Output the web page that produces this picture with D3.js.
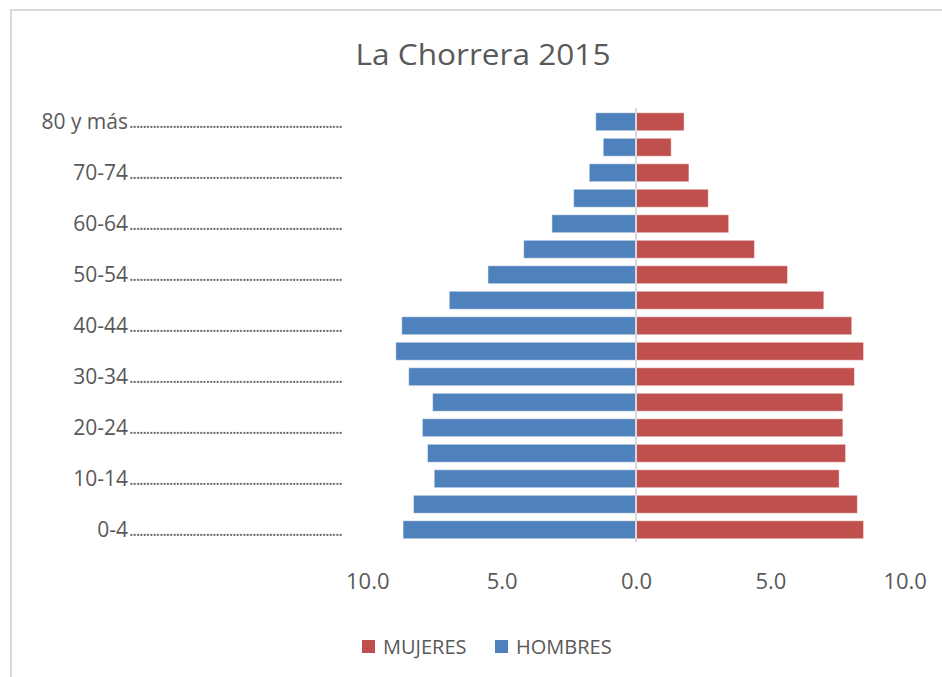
<!DOCTYPE html>
<html>
<head>
<meta charset="utf-8">
<script src="https://cdn.jsdelivr.net/npm/d3@7"></script>
<style>
  html, body { margin: 0; padding: 0; background: #fff; }
  svg { display: block; }
</style>
</head>
<body>
<svg id="chart" width="942" height="677"></svg>
<script>
// Data (bottom to top)
const categories = ["0-4","5-9","10-14","15-19","20-24","25-29","30-34","35-39","40-44","45-49","50-54","55-59","60-64","65-69","70-74","75-79","80 y más"];
const hombres = [8.67, 8.28, 7.51, 7.76, 7.95, 7.57, 8.46, 8.94, 8.72, 6.95, 5.51, 4.18, 3.13, 2.32, 1.74, 1.22, 1.50];
const mujeres = [8.47, 8.24, 7.56, 7.80, 7.70, 7.70, 8.13, 8.47, 8.03, 6.99, 5.64, 4.41, 3.45, 2.69, 1.97, 1.31, 1.79];
const shownLabels = ["0-4","10-14","20-24","30-34","40-44","50-54","60-64","70-74","80 y más"];
const xTicks = [-10, -5, 0, 5, 10];
const title = "La Chorrera 2015";
const legendItems = [{name: "MUJERES", color: "#c0504d"}, {name: "HOMBRES", color: "#4f81bd"}];

const svg = d3.select("#chart");
const textColor = "#595959";
const font = "'Open Sans', 'Noto Sans', sans-serif";

// Chart frame
svg.append("rect").attr("x", 11).attr("y", 10).attr("width", 960).attr("height", 700)
  .attr("fill", "#fff").attr("stroke", "#d9d9d9").attr("stroke-width", 2);

// Title
svg.append("text").attr("x", 483).attr("y", 65).attr("text-anchor", "middle")
  .attr("font-family", font).attr("font-size", 30).attr("fill", textColor)
  .attr("textLength", 255).attr("lengthAdjust", "spacingAndGlyphs")
  .text(title);

// Scales
const x = d3.scaleLinear().domain([-10, 10]).range([367.3, 904.7]);
const y = d3.scaleBand().domain(categories.slice().reverse()).range([109, 542.5]).paddingInner(0.294).paddingOuter(0.147);

const rows = categories.map((c, i) => ({cat: c, h: hombres[i], m: mujeres[i]}));

// Bars
const g = svg.append("g");
g.selectAll("rect.h").data(rows).join("rect").attr("class", "h")
  .attr("x", d => x(-d.h)).attr("width", d => x(0) - x(-d.h))
  .attr("y", d => y(d.cat)).attr("height", y.bandwidth())
  .attr("fill", "#4f81bd").attr("stroke", "#ffffff").attr("stroke-opacity", 0.5).attr("stroke-width", 1);
g.selectAll("rect.m").data(rows).join("rect").attr("class", "m")
  .attr("x", x(0)).attr("width", d => x(d.m) - x(0))
  .attr("y", d => y(d.cat)).attr("height", y.bandwidth())
  .attr("fill", "#c0504d").attr("stroke", "#ffffff").attr("stroke-opacity", 0.5).attr("stroke-width", 1);

// Zero axis line
svg.append("line").attr("x1", x(0)).attr("x2", x(0)).attr("y1", 108).attr("y2", 542)
  .attr("stroke", "#d9d9d9").attr("stroke-width", 2);

// Category labels with dotted leaders
const yAxis = d3.axisLeft(y).tickValues(shownLabels).tickSize(0).tickPadding(0);
const ya = svg.append("g").attr("transform", "translate(128,0)").call(yAxis);
ya.select(".domain").remove();
ya.selectAll("text").attr("font-family", font).attr("font-size", 21).attr("fill", textColor).attr("dy", "0.35em");
ya.selectAll(".tick").append("text")
  .attr("x", 1).attr("dy", "0.35em").attr("text-anchor", "start")
  .attr("font-family", font).attr("font-size", 18).attr("fill", "#6a6a6a")
  .attr("textLength", 214).attr("lengthAdjust", "spacing")
  .text(".".repeat(64));

// X axis
const xAxis = d3.axisBottom(x).tickValues(xTicks).tickSize(0).tickPadding(0)
  .tickFormat(d => d3.format(".1f")(Math.abs(d)));
const xa = svg.append("g").attr("transform", "translate(0,573)").call(xAxis);
xa.select(".domain").remove();
xa.selectAll("text").attr("font-family", font).attr("font-size", 22).attr("fill", textColor).attr("dy", "0.71em");

// Legend
const lg = svg.append("g");
const legendX = [362, 495];
legendItems.forEach((it, i) => {
  lg.append("rect").attr("x", legendX[i]).attr("y", 640).attr("width", 13).attr("height", 13).attr("fill", it.color);
  lg.append("text").attr("x", legendX[i] + 21).attr("y", 654)
    .attr("font-family", font).attr("font-size", 20).attr("fill", textColor).text(it.name);
});
</script>
</body>
</html>
